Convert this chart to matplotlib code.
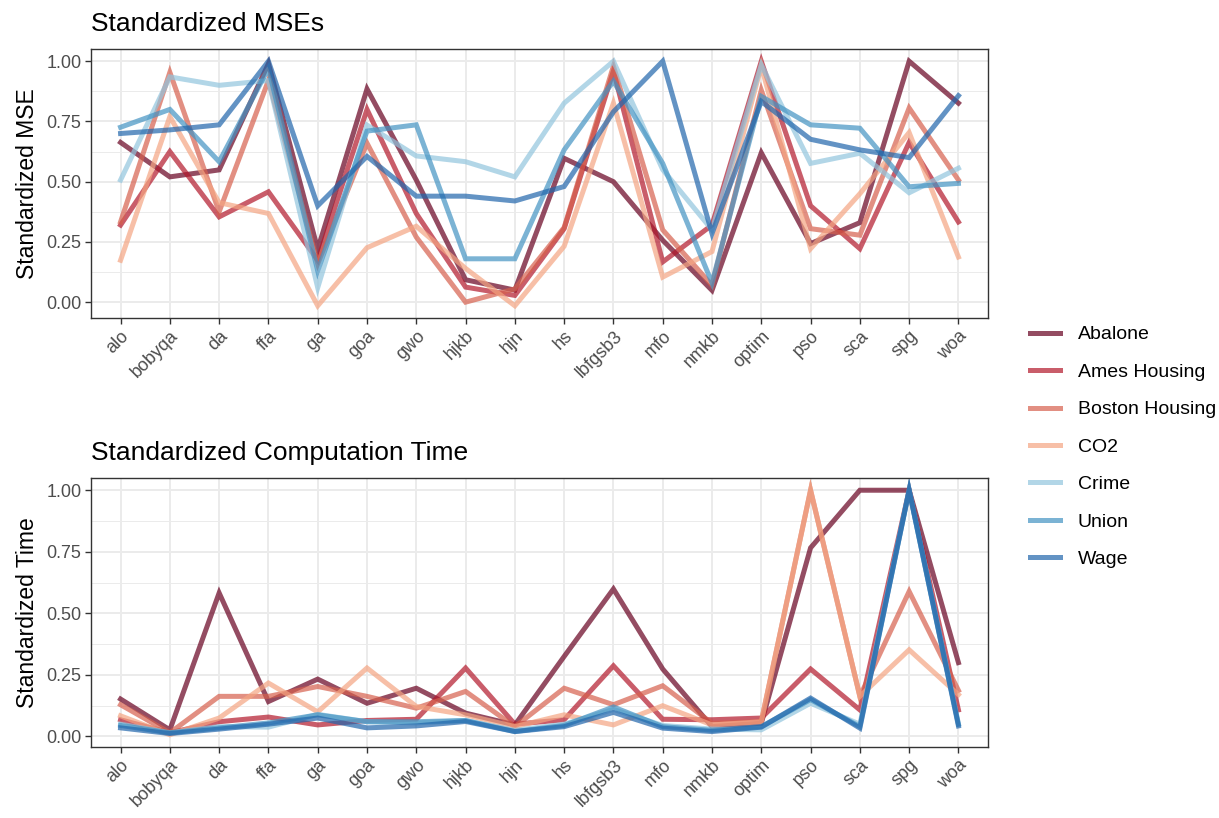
"""
Standardized MSE and computation time per optimizer, one line per dataset.
"""

import matplotlib
matplotlib.use("Agg")
import matplotlib.pyplot as plt
import numpy as np

optimizers = ['alo', 'bobyqa', 'da', 'ffa', 'ga', 'goa', 'gwo', 'hjkb', 'hjn',
              'hs', 'lbfgsb3', 'mfo', 'nmkb', 'optim', 'pso', 'sca', 'spg', 'woa']

datasets = ['Abalone', 'Ames Housing', 'Boston Housing', 'CO2', 'Crime', 'Union', 'Wage']
colors = ['#67001F', '#B2182B', '#D6604D', '#F4A582', '#92C5DE', '#4393C3', '#2166AC']

# standardized MSE, values
mse_abalone = [0.663, 0.52, 0.549, 0.99, 0.22, 0.885, 0.507, 0.093, 0.05, 0.597,
               0.50, 0.257, 0.049, 0.62, 0.243, 0.33, 1.0, 0.826]
mse_ames = [0.32, 0.625, 0.354, 0.458, 0.174, 0.80, 0.368, 0.0625, 0.028, 0.305,
            0.96, 0.167, 0.32, 1.0, 0.40, 0.222, 0.663, 0.333]
mse_boston = [0.333, 0.954, 0.375, 0.92, 0.16, 0.66, 0.27, 0.0, 0.055, 0.31,
              0.98, 0.30, 0.07, 0.88, 0.305, 0.278, 0.806, 0.507]
mse_co2 = [0.174, 0.77, 0.413, 0.368, -0.015, 0.226, 0.315, 0.14, -0.015, 0.232,
           0.826, 0.104, 0.21, 0.98, 0.222, 0.45, 0.704, 0.1875]
mse_crime = [0.507, 0.935, 0.90, 0.92, 0.06, 0.735, 0.607, 0.583, 0.52, 0.826,
             1.0, 0.55, 0.30, 0.985, 0.576, 0.618, 0.454, 0.556]
mse_union = [0.726, 0.80, 0.583, 0.97, 0.13, 0.71, 0.736, 0.18, 0.18, 0.632,
             0.917, 0.576, 0.08, 0.854, 0.736, 0.722, 0.479, 0.493]
mse_wage = [0.70, 0.715, 0.736, 1.0, 0.40, 0.605, 0.44, 0.44, 0.42, 0.48,
            0.79, 1.0, 0.285, 0.833, 0.676, 0.632, 0.60, 0.857]

# standardized computation time
time_abalone = [0.152, 0.027, 0.583, 0.142, 0.233, 0.135, 0.196, 0.095, 0.047, 0.325,
                0.599, 0.274, 0.04, 0.054, 0.766, 1.0, 1.0, 0.30]
time_ames = [0.068, 0.015, 0.06, 0.079, 0.047, 0.065, 0.07, 0.278, 0.05, 0.068,
             0.287, 0.07, 0.068, 0.075, 0.274, 0.108, 1.0, 0.108]
time_boston = [0.129, 0.015, 0.163, 0.163, 0.203, 0.163, 0.115, 0.183, 0.04, 0.196,
               0.129, 0.206, 0.054, 0.06, 1.0, 0.163, 0.589, 0.187]
time_co2 = [0.084, 0.007, 0.075, 0.217, 0.10, 0.278, 0.122, 0.088, 0.04, 0.088,
            0.047, 0.125, 0.047, 0.06, 1.0, 0.163, 0.352, 0.17]
time_crime = [0.05, 0.015, 0.04, 0.038, 0.09, 0.06, 0.055, 0.065, 0.025, 0.05,
              0.11, 0.045, 0.03, 0.027, 0.135, 0.05, 1.0, 0.05]
time_union = [0.045, 0.015, 0.035, 0.055, 0.088, 0.06, 0.06, 0.065, 0.02, 0.045,
              0.12, 0.04, 0.025, 0.04, 0.15, 0.04, 1.0, 0.05]
time_wage = [0.035, 0.012, 0.03, 0.05, 0.075, 0.035, 0.043, 0.061, 0.02, 0.04,
             0.098, 0.034, 0.02, 0.038, 0.156, 0.034, 1.0, 0.043]

mse_values = [mse_abalone, mse_ames, mse_boston, mse_co2, mse_crime, mse_union, mse_wage]
time_values = [time_abalone, time_ames, time_boston, time_co2, time_crime, time_union, time_wage]

plt.rcParams['font.family'] = ['Liberation Sans', 'DejaVu Sans']


def style_panel(ax, title, ylabel):
    """Apply a theme_bw-like look to one panel"""
    ax.set_xlim(-0.6, len(optimizers) - 0.4)
    ax.margins(y=0.05)
    ax.set_xticks(range(len(optimizers)))
    ax.set_xticklabels(optimizers, rotation=45, ha='right', va='top',
                       rotation_mode='anchor', fontsize=13, color='#4D4D4D')
    ax.set_yticks([0, 0.25, 0.5, 0.75, 1.0])
    ax.set_yticklabels(['0.00', '0.25', '0.50', '0.75', '1.00'], fontsize=13, color='#4D4D4D')
    ax.set_yticks([0.125, 0.375, 0.625, 0.875], minor=True)
    ax.grid(True, which='major', color='#EBEBEB', linewidth=1.4)
    ax.grid(True, which='minor', axis='y', color='#EBEBEB', linewidth=0.7)
    ax.set_axisbelow(True)
    ax.tick_params(axis='both', which='major', length=4, width=1, color='#333333', pad=3)
    ax.tick_params(axis='both', which='minor', length=0)
    for spine in ax.spines.values():
        spine.set_color('#333333')
        spine.set_linewidth(1.0)
    ax.set_title(title, loc='left', fontsize=19, pad=13)
    ax.set_ylabel(ylabel, fontsize=16.5, labelpad=5)


def main():
    fig = plt.figure(figsize=(12.19, 8.18), dpi=100)
    ax_top = fig.add_axes([91 / 1219, 1 - 318 / 818, 897 / 1219, 269 / 818])
    ax_bot = fig.add_axes([91 / 1219, 1 - 747 / 818, 897 / 1219, 269 / 818])

    x = np.arange(len(optimizers))
    handles = []
    for name, color, mse, tm in zip(datasets, colors, mse_values, time_values):
        h, = ax_top.plot(x, mse, color=color, alpha=0.7, linewidth=3.6,
                         solid_joinstyle='miter', label=name)
        ax_bot.plot(x, tm, color=color, alpha=0.7, linewidth=3.6, solid_joinstyle='miter')
        handles.append(h)

    style_panel(ax_top, 'Standardized MSEs', 'Standardized MSE')
    style_panel(ax_bot, 'Standardized Computation Time', 'Standardized Time')

    fig.legend(handles, datasets, loc='center left', bbox_to_anchor=(1030 / 1219, 1 - 447 / 818),
               frameon=False, fontsize=14, handlelength=1.55, handletextpad=0.9,
               labelspacing=1.02, borderpad=0, borderaxespad=0)

    fig.savefig('out.png', dpi=100)


if __name__ == "__main__":
    main()
